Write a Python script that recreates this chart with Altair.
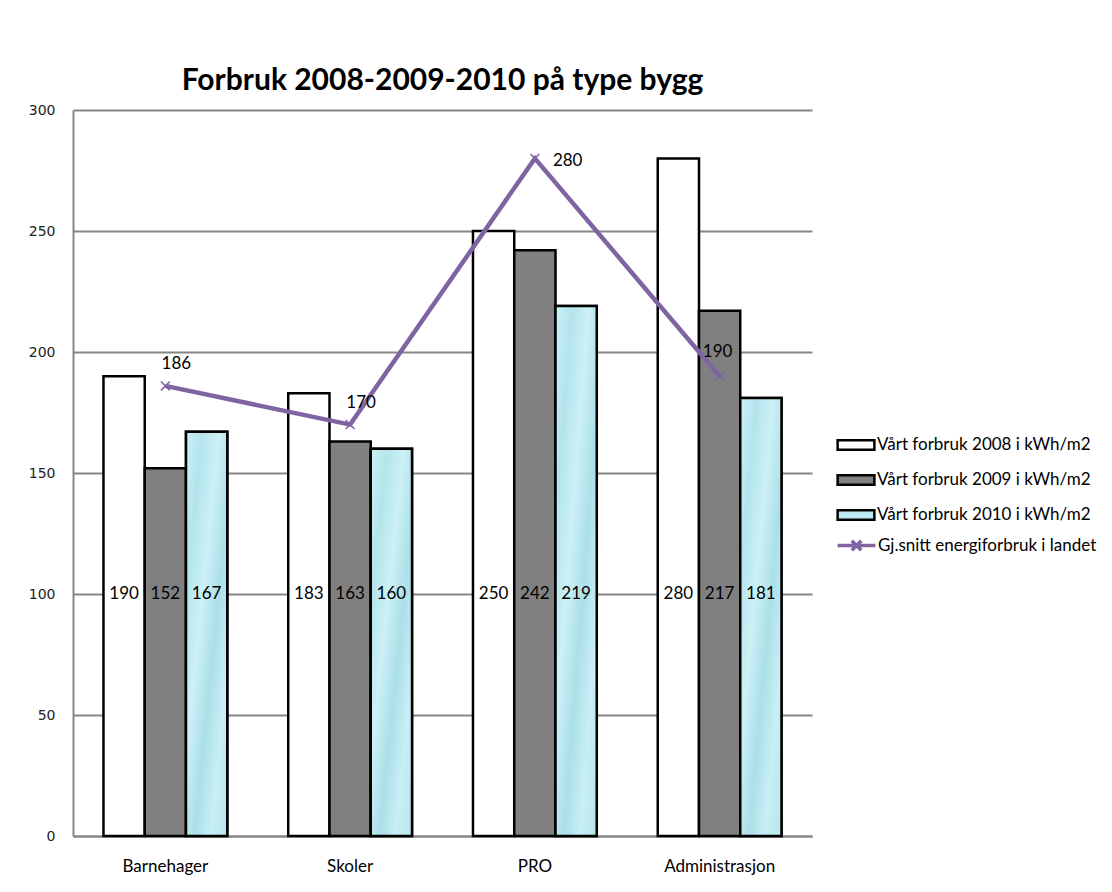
import altair as alt
import pandas as pd

categories = ["Barnehager", "Skoler", "PRO", "Administrasjon"]
series_names = ["Vårt forbruk 2008 i kWh/m2", "Vårt forbruk 2009 i kWh/m2", "Vårt forbruk 2010 i kWh/m2"]
v2008 = [190, 183, 250, 280]
v2009 = [152, 163, 242, 217]
v2010 = [167, 160, 219, 181]
line_name = "Gj.snitt energiforbruk i landet"
avg_values = [186, 170, 280, 190]

rows = []
for s, vals in zip(series_names, [v2008, v2009, v2010]):
    for c, v in zip(categories, vals):
        rows.append({"kategori": c, "serie": s, "verdi": v})
bars_df = pd.DataFrame(rows)
line_df = pd.DataFrame({"kategori": categories, "verdi": avg_values, "linje": [line_name] * 4})

bar_colors = ["#ffffff", "#808080", "#bde9f0"]
FONT = "Lato"
PURPLE = "#8064a2"

fill_legend = alt.Legend(
    title=None, orient="none", legendX=771, legendY=323,
    labelFont=FONT, labelFontSize=17, labelColor="black", labelLimit=400,
    rowPadding=13, labelOffset=9, symbolSize=441,
    symbolType="M-1.75,-0.45H1.75V0.45H-1.75Z",
    symbolStrokeColor="black", symbolStrokeWidth=2.5, symbolOpacity=1,
)
stroke_legend = alt.Legend(
    title=None, orient="none", legendX=771, legendY=423,
    labelFont=FONT, labelFontSize=17, labelColor="black", labelLimit=400,
    labelOffset=9, symbolSize=441,
    symbolType="M-1.8,0H1.8M-0.45,-0.45L0.45,0.45M-0.45,0.45L0.45,-0.45",
    symbolStrokeWidth=3.5, symbolFillColor="transparent", symbolOpacity=1,
)

fill = alt.Fill("serie:N", scale=alt.Scale(domain=series_names, range=bar_colors), legend=fill_legend)
stroke = alt.Stroke("linje:N", scale=alt.Scale(domain=[line_name], range=[PURPLE]), legend=stroke_legend)

x = alt.X("kategori:N", sort=categories, title=None,
          scale=alt.Scale(paddingInner=0.33, paddingOuter=0.165),
          axis=alt.Axis(labelAngle=0, labelFont=FONT, labelFontSize=17, labelColor="black",
                        labelPadding=22, ticks=False, domainColor="#868686", domainWidth=2, grid=False))
y = alt.Y("verdi:Q", title=None,
          scale=alt.Scale(domain=[0, 300], nice=False),
          axis=alt.Axis(values=[0, 50, 100, 150, 200, 250, 300], labelFont="DejaVu Sans", labelFontSize=14,
                        labelColor="#222222", labelPadding=18, ticks=False, domainColor="#868686",
                        domainWidth=2, gridColor="#868686", gridWidth=2))
xoff = alt.XOffset("serie:N", sort=series_names, scale=alt.Scale(domain=series_names, paddingInner=0, paddingOuter=0))

base = alt.Chart(bars_df)
bars = base.mark_bar(stroke="black", strokeWidth=2.5).encode(x=x, y=y, xOffset=xoff, fill=fill)

texture = base.transform_filter(alt.datum.serie == series_names[2]).mark_bar(
    stroke="black", strokeWidth=2.5,
    fill=alt.Gradient(gradient="linear", x1=0, x2=1, y1=0, y2=1, stops=[
        alt.GradientStop(color="#cdf2f7", offset=0),
        alt.GradientStop(color="#b3e4ec", offset=0.2),
        alt.GradientStop(color="#cbf1f6", offset=0.4),
        alt.GradientStop(color="#addfe8", offset=0.6),
        alt.GradientStop(color="#c8eff5", offset=0.8),
        alt.GradientStop(color="#b6e5ed", offset=1),
    ])
).encode(x=x, y=y, xOffset=xoff)

labels = base.mark_text(font=FONT, fontSize=17, color="black").encode(
    x=x, xOffset=xoff, y=alt.YDatum(100), text="verdi:Q")

lbase = alt.Chart(line_df)
line = lbase.mark_line(strokeWidth=4.5).encode(x=x, y=y, stroke=stroke)
points = lbase.mark_point(shape="M-1,-1L1,1M-1,1L1,-1", size=80, filled=False, strokeWidth=1.5,
                          color=PURPLE, opacity=1).encode(x=x, y=y)
lab_common = dict(font=FONT, fontSize=17, color="black")
ll_low = lbase.transform_filter(
    alt.FieldOneOfPredicate(field="kategori", oneOf=categories[:2])
).mark_text(align="center", dx=11, dy=-22, **lab_common).encode(x=x, y=y, text="verdi:Q")
ll_pro = lbase.transform_filter(alt.datum.kategori == categories[2]).mark_text(
    align="left", dx=18, dy=3, **lab_common).encode(x=x, y=y, text="verdi:Q")
ll_adm = lbase.transform_filter(alt.datum.kategori == categories[3]).mark_text(
    align="center", dx=-2, dy=-24, **lab_common).encode(x=x, y=y, text="verdi:Q")

chart = alt.layer(bars, texture, labels, line, points, ll_low, ll_pro, ll_adm).properties(
    width=739, height=726,
    autosize=alt.AutoSizeParams(type="none"),
    padding={"left": 65, "top": 102, "right": 292, "bottom": 48},
    title=alt.TitleParams("Forbruk 2008-2009-2010 på type bygg", font=FONT, fontSize=30,
                          fontWeight="bold", color="black", anchor="middle", offset=7),
).configure_view(stroke=None)

chart.save("out.html", embed_options={"renderer": "svg", "actions": False})
